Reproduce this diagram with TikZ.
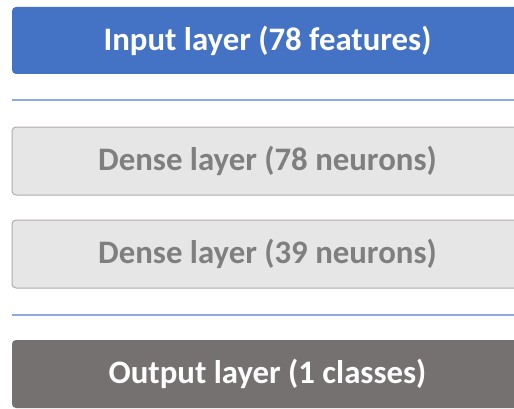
\documentclass[tikz,border=0pt]{standalone}
\usepackage{fontspec}
\setmainfont{Carlito}
\definecolor{inblue}{HTML}{4472C4}
\definecolor{outgray}{HTML}{767171}
\definecolor{densefill}{HTML}{E7E6E6}
\definecolor{denseline}{HTML}{AFABAB}
\definecolor{densetext}{HTML}{7F7F7F}
\definecolor{sepline}{HTML}{8FAADC}
\begin{document}
\begin{tikzpicture}[x=1pt,y=1pt,
  layerbox/.style={rectangle, rounded corners=4pt, minimum width=511pt, inner sep=0pt,
    font=\bfseries\fontsize{32.8}{36}\selectfont},
  inbox/.style={layerbox, fill=inblue, text=white, minimum height=67pt},
  densebox/.style={layerbox, fill=densefill, draw=denseline, line width=1pt, text=densetext, minimum height=68pt},
  outbox/.style={layerbox, fill=outgray, text=white, minimum height=68pt},
  sep/.style={draw=sepline, line width=2pt}]
\useasboundingbox (0,0) rectangle (514,408);
\clip (0,0) rectangle (514,408);
\node[inbox] (in) at (267.5,367.5) {Input layer (78 features)};
\node[densebox] (d1) at (267.5,247) {Dense layer (78 neurons)};
\node[densebox] (d2) at (267.5,154) {Dense layer (39 neurons)};
\node[outbox] (out) at (267.5,34) {Output layer (1 classes)};
\coordinate (s1a) at (12,308);
\coordinate (s1b) at (530,308);
\coordinate (s2a) at (12,93);
\coordinate (s2b) at (530,93);
\draw[sep] (s1a) -- (s1b);
\draw[sep] (s2a) -- (s2b);
\end{tikzpicture}
\end{document}
